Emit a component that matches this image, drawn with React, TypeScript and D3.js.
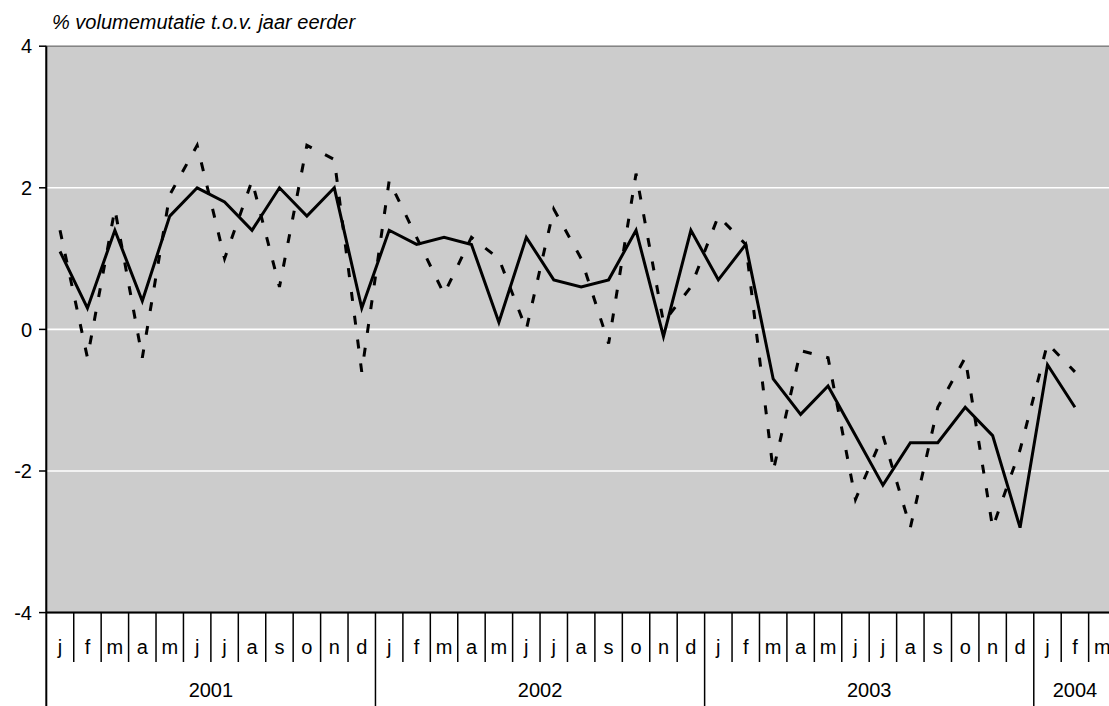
import React from "react";
import * as d3 from "d3";

// chart values
const years = ["2001", "2002", "2003", "2004"];
const monthsPerYear = [12, 12, 12, 3];
const monthLetters = ["j", "f", "m", "a", "m", "j", "j", "a", "s", "o", "n", "d"];
const yTicks = [-4, -2, 0, 2, 4];
const gridValues = [-2, 0, 2];
const titleText = "% volumemutatie t.o.v. jaar eerder";

// solid line (jan 2001 .. feb 2004)
const solidValues = [
  1.1, 0.3, 1.4, 0.4, 1.6, 2.0, 1.8, 1.4, 2.0, 1.6, 2.0, 0.3,
  1.4, 1.2, 1.3, 1.2, 0.1, 1.3, 0.7, 0.6, 0.7, 1.4, -0.1, 1.4,
  0.7, 1.2, -0.7, -1.2, -0.8, -1.5, -2.2, -1.6, -1.6, -1.1, -1.5, -2.8,
  -0.5, -1.1,
];

// dashed line (jan 2001 .. feb 2004)
const dashedValues = [
  1.4, -0.4, 1.7, -0.4, 1.9, 2.6, 1.0, 2.1, 0.6, 2.6, 2.4, -0.6,
  2.1, 1.3, 0.5, 1.3, 1.0, 0.0, 1.7, 1.0, -0.2, 2.2, 0.1, 0.6,
  1.6, 1.2, -2.0, -0.3, -0.4, -2.4, -1.5, -2.8, -1.1, -0.4, -2.8, -1.7,
  -0.2, -0.6,
];

const W = 1109;
const H = 706;
const left = 46.3;
const bandW = 27.43;
const top = 46.2;
const bottom = 612.6;
const FONT = "'Liberation Sans', Arial, sans-serif";

export default function App() {
  // one band per month
  const cats: { key: string; label: string; year: string }[] = [];
  years.forEach((yr, yi) => {
    for (let m = 0; m < monthsPerYear[yi]; m++) {
      cats.push({ key: `${yr}-${m}`, label: monthLetters[m], year: yr });
    }
  });

  const x = d3
    .scaleBand<string>()
    .domain(cats.map((c) => c.key))
    .range([left, left + bandW * cats.length])
    .padding(0);
  const y = d3.scaleLinear().domain([-4, 4]).range([bottom, top]);
  const bw = x.bandwidth();
  const right = left + bw * cats.length;

  const line = d3
    .line<number>()
    .x((_, i) => (x(cats[i].key) as number) + bw / 2)
    .y((d) => y(d));

  // year boundaries (band index where each year starts)
  const yearStarts: number[] = [];
  let acc = 0;
  monthsPerYear.forEach((n) => {
    yearStarts.push(acc);
    acc += n;
  });

  return (
    <svg
      width={W}
      height={H}
      style={{ position: "absolute", left: 0, top: 0, background: "#fff" }}
    >
      <rect x={left} y={top} width={right - left} height={bottom - top} fill="#cccccc" stroke="#808080" strokeWidth={1.5} />
      {gridValues.map((v) => (
        <line key={v} x1={left} x2={right} y1={y(v)} y2={y(v)} stroke="#fff" strokeWidth={1.6} />
      ))}

      <text x={52} y={29} fontFamily={FONT} fontStyle="italic" fontSize={20} fill="#000">
        {titleText}
      </text>

      {/* y axis */}
      <line x1={left} x2={left} y1={top} y2={H} stroke="#000" strokeWidth={2} />
      {yTicks.map((t) => (
        <g key={t}>
          <line x1={39} x2={left} y1={y(t)} y2={y(t)} stroke="#000" strokeWidth={1.5} />
          <text x={32} y={y(t)} dy="0.36em" textAnchor="end" fontFamily={FONT} fontSize={20} fill="#000">
            {t}
          </text>
        </g>
      ))}

      {/* category axis */}
      <line x1={left} x2={right} y1={bottom} y2={bottom} stroke="#000" strokeWidth={2} />
      {cats.map((c, i) => (
        <g key={c.key}>
          {i > 0 && !yearStarts.includes(i) && (
            <line
              x1={x(c.key) as number}
              x2={x(c.key) as number}
              y1={bottom}
              y2={662}
              stroke="#000"
              strokeWidth={1.5}
            />
          )}
          <text
            x={(x(c.key) as number) + bw / 2}
            y={654}
            textAnchor="middle"
            fontFamily={FONT}
            fontSize={20}
            fill="#000"
          >
            {c.label}
          </text>
        </g>
      ))}
      {yearStarts.map((s, yi) => {
        const x0 = x(cats[s].key) as number;
        const x1 = x0 + monthsPerYear[yi] * bw;
        return (
          <g key={years[yi]}>
            {yi > 0 && <line x1={x0} x2={x0} y1={bottom} y2={H} stroke="#000" strokeWidth={1.5} />}
            <text x={(x0 + x1) / 2} y={697} textAnchor="middle" fontFamily={FONT} fontSize={20} fill="#000">
              {years[yi]}
            </text>
          </g>
        );
      })}

      {/* series */}
      <path d={line(dashedValues) || ""} fill="none" stroke="#000" strokeWidth={3} strokeDasharray="9 15" />
      <path d={line(solidValues) || ""} fill="none" stroke="#000" strokeWidth={3} strokeLinejoin="miter" />
    </svg>
  );
}
